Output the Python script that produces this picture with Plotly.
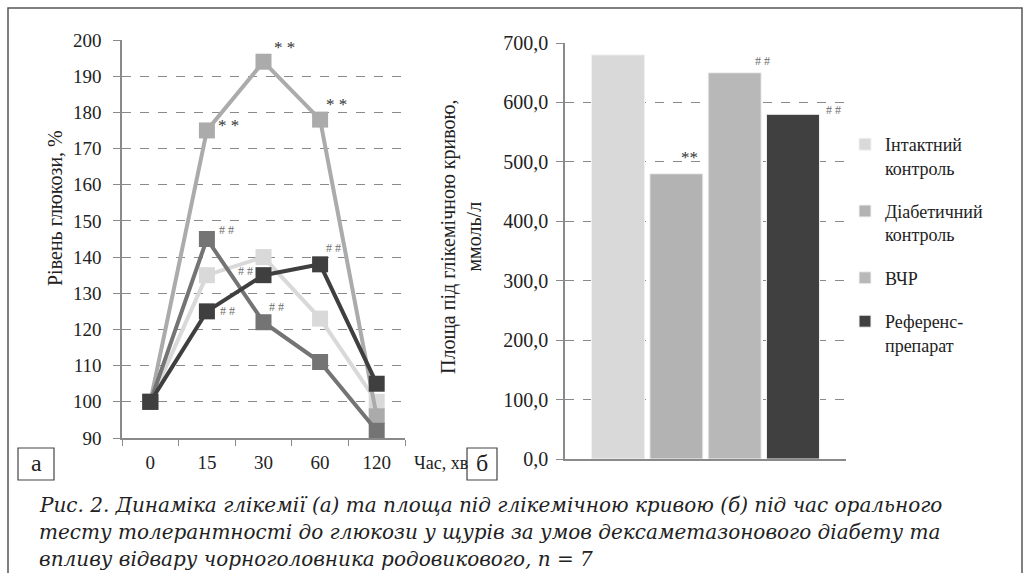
import plotly.graph_objects as go

W, H = 1030, 573

# ---------------- data ----------------
time_labels = ["0", "15", "30", "60", "120"]
series_names = ["Інтактний контроль", "Діабетичний контроль", "ВЧР", "Референс-препарат"]
legend_labels = ["Інтактний<br>контроль", "Діабетичний<br>контроль", "ВЧР", "Референс-<br>препарат"]
glucose_intact = [100, 135, 140, 123, 100]
glucose_diabetic = [100, 175, 194, 178, 96]
glucose_vchr = [100, 145, 122, 111, 92]
glucose_reference = [100, 125, 135, 138, 105]
auc_values = [680, 480, 650, 580]
auc_ticks = [0, 100, 200, 300, 400, 500, 600, 700]
auc_ticktext = ["0,0", "100,0", "200,0", "300,0", "400,0", "500,0", "600,0", "700,0"]

line_colors = ["#d9d9d9", "#ababab", "#747474", "#3f3f3f"]
bar_colors = ["#d9d9d9", "#b3b3b3", "#b8b8b8", "#404040"]

SERIF = "Liberation Serif"
CAPFONT = "DejaVu Serif"
AX = "#8a8a8a"


def px(x):
    return x / W


def py(y):
    return 1 - y / H


fig = go.Figure()

# ---------------- left: line chart ----------------
for name, vals, col in zip(series_names,
                           [glucose_intact, glucose_diabetic, glucose_vchr, glucose_reference],
                           line_colors):
    fig.add_trace(go.Scatter(
        x=time_labels, y=vals, mode="lines+markers", name=name,
        line=dict(color=col, width=4),
        marker=dict(symbol="square", size=16, color=col),
        showlegend=False, xaxis="x", yaxis="y"))

# ---------------- right: bar chart ----------------
for i, (lab, val, col) in enumerate(zip(legend_labels, auc_values, bar_colors)):
    fig.add_trace(go.Bar(
        x=[""], y=[val], name=lab, marker=dict(color=col, line=dict(color="#f2f2f2", width=1)),
        legendgroup=f"g{i}", xaxis="x2", yaxis="y2"))

annotations = []


# significance marks, left chart (x given as category index)
def mark(xidx, yval, text, dx, dy, big):
    annotations.append(dict(
        x=xidx, y=yval, xref="x", yref="y", text=text, showarrow=False,
        xanchor="center", yanchor="middle", xshift=dx, yshift=dy,
        font=dict(family=SERIF, size=17 if big else 12, color="#333333" if big else "#6e6e6e")))


mark(1, glucose_diabetic[1], "* *", 22, 5, True)
mark(2, glucose_diabetic[2], "* *", 21, 14, True)
mark(3, glucose_diabetic[3], "* *", 16, 15, True)
mark(1, glucose_vchr[1], "# #", 20, 9, False)
mark(1, glucose_reference[1], "# #", 21, 0, False)
mark(2, glucose_reference[2], "# #", -18, 4, False)
mark(2, glucose_vchr[2], "# #", 13, 15, False)
mark(3, glucose_reference[3], "# #", 13, 16, False)


# significance marks, right chart
def bmark(idx, text, dx, dy, big):
    annotations.append(dict(
        x=0, y=auc_values[idx], xref="x2", yref="y2", text=text, showarrow=False,
        xanchor="center", yanchor="middle", xshift=dx, yshift=dy,
        font=dict(family=SERIF, size=17 if big else 12, color="#333333" if big else "#6e6e6e")))


bmark(1, "**", -16, 16, True)
bmark(2, "# #", 57, 12, False)
bmark(3, "# #", 128, 4, False)


def label(x, y, text, size, angle=0):
    annotations.append(dict(x=px(x), y=py(y), xref="paper", yref="paper", text=text,
                            xanchor="center", yanchor="middle", textangle=angle,
                            showarrow=False, font=dict(family=SERIF, size=size, color="#222")))


# axis titles and labels
label(55, 208, "Рівень глюкози, %", 20, -90)
label(461, 237, "Площа під глікемічною кривою,<br>ммоль/л", 20, -90)
label(441, 463, "Час, хв", 18)
label(36, 463, "а", 24)
label(482, 463, "б", 24)

caption = [
    "Рис. 2. Динаміка глікемії (а) та площа під глікемічною кривою (б) під час орального",
    "тесту толерантності до глюкози у щурів за умов дексаметазонового діабету та",
    "впливу відвару чорноголовника родовикового, n = 7",
]
for txt, yy in zip(caption, [505, 532, 559]):
    annotations.append(dict(
        x=px(37), y=py(yy), xref="paper", yref="paper", xanchor="left", yanchor="middle",
        text=f"<i>{txt}</i>", showarrow=False,
        font=dict(family=CAPFONT, size=20, color="#222")))

shapes = [
    dict(type="rect", xref="paper", yref="paper", x0=px(8), x1=px(1022), y0=py(600), y1=py(8),
         line=dict(color="#555", width=1.5)),
    dict(type="rect", xref="paper", yref="paper", x0=px(18), x1=px(54), y0=py(480), y1=py(448),
         line=dict(color="#444", width=1.2)),
    dict(type="rect", xref="paper", yref="paper", x0=px(467), x1=px(497), y0=py(480), y1=py(448),
         line=dict(color="#444", width=1.2)),
]

fig.update_layout(
    template="none",
    width=W, height=H, margin=dict(l=0, r=0, t=0, b=0, pad=0, autoexpand=False),
    paper_bgcolor="white", plot_bgcolor="white",
    font=dict(family=SERIF, size=19, color="#222"),
    barmode="group", bargap=0.17, bargroupgap=0.09,
    xaxis=dict(domain=[px(122), px(405)], anchor="y", type="category", automargin=False,
               categoryorder="array", categoryarray=time_labels, range=[-0.5, 4.5],
               tickson="boundaries", ticks="outside", ticklen=6, tickcolor=AX,
               showline=True, linecolor=AX, linewidth=1.5, showgrid=False,
               tickfont=dict(family=SERIF, size=19), ticklabelstandoff=6, tickangle=0),
    yaxis=dict(domain=[py(438), py(40)], anchor="x", range=[90, 200], dtick=10, automargin=False,
               ticks="outside", ticklen=7, tickcolor=AX,
               showline=True, linecolor=AX, linewidth=1.5,
               showgrid=True, gridcolor=AX, griddash="dash", gridwidth=1.2,
               zeroline=False, tickfont=dict(family=SERIF, size=19), ticklabelstandoff=8),
    xaxis2=dict(domain=[px(565), px(846)], anchor="y2", showticklabels=False, ticks="",
                automargin=False,
                showline=True, linecolor=AX, linewidth=1.5, showgrid=False),
    yaxis2=dict(domain=[py(459), py(43)], anchor="x2", range=[0, 700], automargin=False,
                tickvals=auc_ticks, ticktext=auc_ticktext,
                ticks="outside", ticklen=7, tickcolor=AX,
                showline=True, linecolor=AX, linewidth=1.5,
                showgrid=True, gridcolor=AX, griddash="dash", gridwidth=1.2,
                zeroline=False, tickfont=dict(family=SERIF, size=20), ticklabelstandoff=4),
    legend=dict(x=px(845), y=py(126), xanchor="left", yanchor="top",
                font=dict(family=SERIF, size=18, color="#222"),
                tracegroupgap=17, valign="top", bgcolor="rgba(0,0,0,0)",
                itemwidth=30, traceorder="grouped"),
    annotations=annotations, shapes=shapes,
)

fig.write_html("out.html", config={"displayModeBar": False},
               post_script="document.body.style.margin='0';")
